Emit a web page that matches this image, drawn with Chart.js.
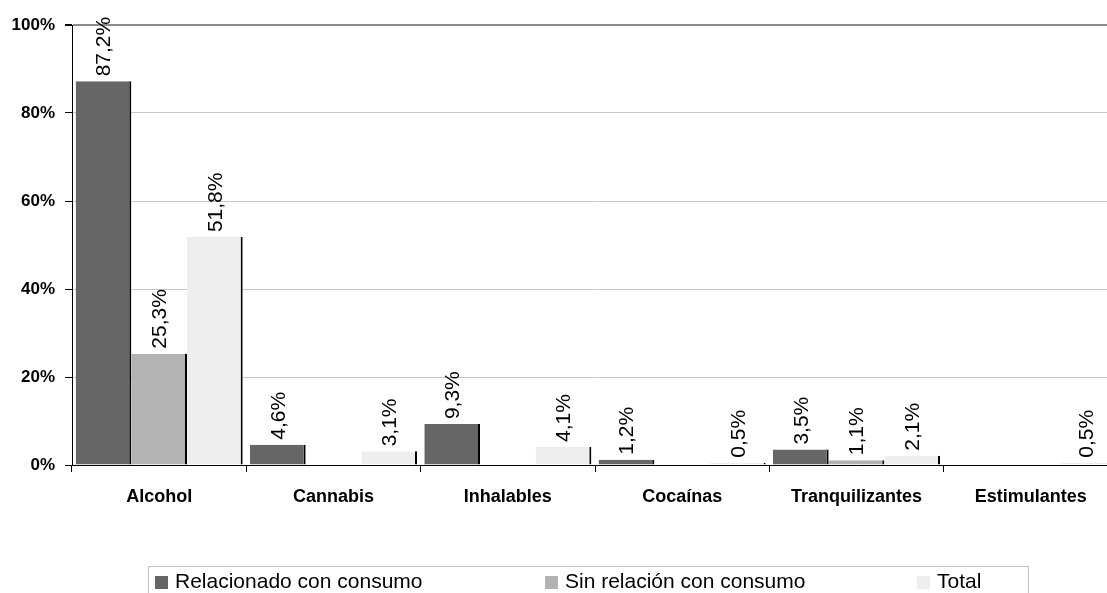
<!DOCTYPE html>
<html>
<head>
<meta charset="utf-8">
<script src="https://cdn.jsdelivr.net/npm/chart.js@4/dist/chart.umd.min.js"></script>
<style>
  html, body { margin: 0; padding: 0; background: #fff; overflow: hidden; }
  #wrap { width: 1120px; height: 593px; }
</style>
</head>
<body>
<div id="wrap"><canvas id="c" width="1120" height="593"></canvas></div>
<script>
const categories = ['Alcohol', 'Cannabis', 'Inhalables', 'Cocaínas', 'Tranquilizantes', 'Estimulantes'];
const seriesNames = ['Relacionado con consumo', 'Sin relación con consumo', 'Total'];
const relacionado = [87.2, 4.6, 9.3, 1.2, 3.5, null];
const sinRelacion = [25.3, null, null, null, 1.1, null];
const total = [51.8, 3.1, 4.1, 0.5, 2.1, 0.5];
const yTicks = [0, 20, 40, 60, 80, 100];
const colors = ['#666666', '#b3b3b3', '#eeeeee'];

const FONT = "'Liberation Sans', Arial, sans-serif";

// rotated value labels above each bar
const valueLabels = {
  id: 'valueLabels',
  afterDatasetsDraw(chart) {
    const {ctx} = chart;
    ctx.save();
    ctx.font = '21px ' + FONT;
    ctx.fillStyle = '#000';
    ctx.textAlign = 'left';
    ctx.textBaseline = 'middle';
    chart.data.datasets.forEach((ds, i) => {
      chart.getDatasetMeta(i).data.forEach((bar, j) => {
        const v = ds.data[j];
        if (v == null) return;
        ctx.save();
        ctx.translate(bar.x + 1, bar.y - 5);
        ctx.rotate(-Math.PI / 2);
        ctx.fillText(v.toFixed(1).replace('.', ',') + '%', 0, 0);
        ctx.restore();
      });
    });
    ctx.restore();
  }
};

// boxed legend at the bottom, like the spreadsheet original
const boxLegend = {
  id: 'boxLegend',
  afterDraw(chart) {
    const {ctx} = chart;
    const itemX = [155, 545, 917];
    ctx.save();
    ctx.strokeStyle = '#c0c0c0';
    ctx.lineWidth = 1;
    ctx.strokeRect(148.5, 566.5, 880, 40);
    ctx.font = '21px ' + FONT;
    ctx.textBaseline = 'middle';
    ctx.textAlign = 'left';
    chart.data.datasets.forEach((ds, i) => {
      ctx.fillStyle = ds.backgroundColor;
      ctx.fillRect(itemX[i], 576, 13, 13);
      ctx.fillStyle = '#000';
      ctx.fillText(ds.label, itemX[i] + 20, 582);
    });
    ctx.restore();
  }
};

const mk = (label, data, color) => ({
  label: label,
  data: data,
  backgroundColor: color,
  borderColor: '#000',
  borderWidth: {top: 0, left: 0, bottom: 0, right: 2},
  borderSkipped: false,
  categoryPercentage: 0.958,
  barPercentage: 1
});

new Chart(document.getElementById('c'), {
  type: 'bar',
  data: {
    labels: categories,
    datasets: [
      mk(seriesNames[0], relacionado, colors[0]),
      mk(seriesNames[1], sinRelacion, colors[1]),
      mk(seriesNames[2], total, colors[2])
    ]
  },
  options: {
    responsive: false,
    animation: false,
    layout: { padding: { top: 25, right: 2, left: 0, bottom: 0 } },
    plugins: {
      legend: { display: false },
      tooltip: { enabled: false }
    },
    scales: {
      x: {
        afterFit: s => { s.height = 128; },
        border: { color: '#000', width: 1 },
        grid: {
          drawOnChartArea: false,
          drawTicks: true,
          tickLength: 7,
          tickColor: '#000'
        },
        ticks: {
          color: '#000',
          padding: 14,
          maxRotation: 0,
          font: { family: FONT, size: 18, weight: 'bold' }
        }
      },
      y: {
        min: 0,
        max: 100,
        afterFit: s => { s.width = 72; },
        afterBuildTicks: s => { s.ticks = yTicks.map(v => ({value: v})); },
        border: { color: '#000', width: 1 },
        grid: {
          color: c => (c.tick && c.tick.value === 100) ? '#8c8c8c' : '#c8c8c8',
          lineWidth: c => (c.tick && c.tick.value === 100) ? 2 : 1,
          tickColor: '#000',
          tickLength: 7
        },
        ticks: {
          color: '#000',
          padding: 10,
          callback: v => v + '%',
          font: { family: FONT, size: 17, weight: 'bold' }
        }
      }
    }
  },
  plugins: [valueLabels, boxLegend]
});
</script>
</body>
</html>
